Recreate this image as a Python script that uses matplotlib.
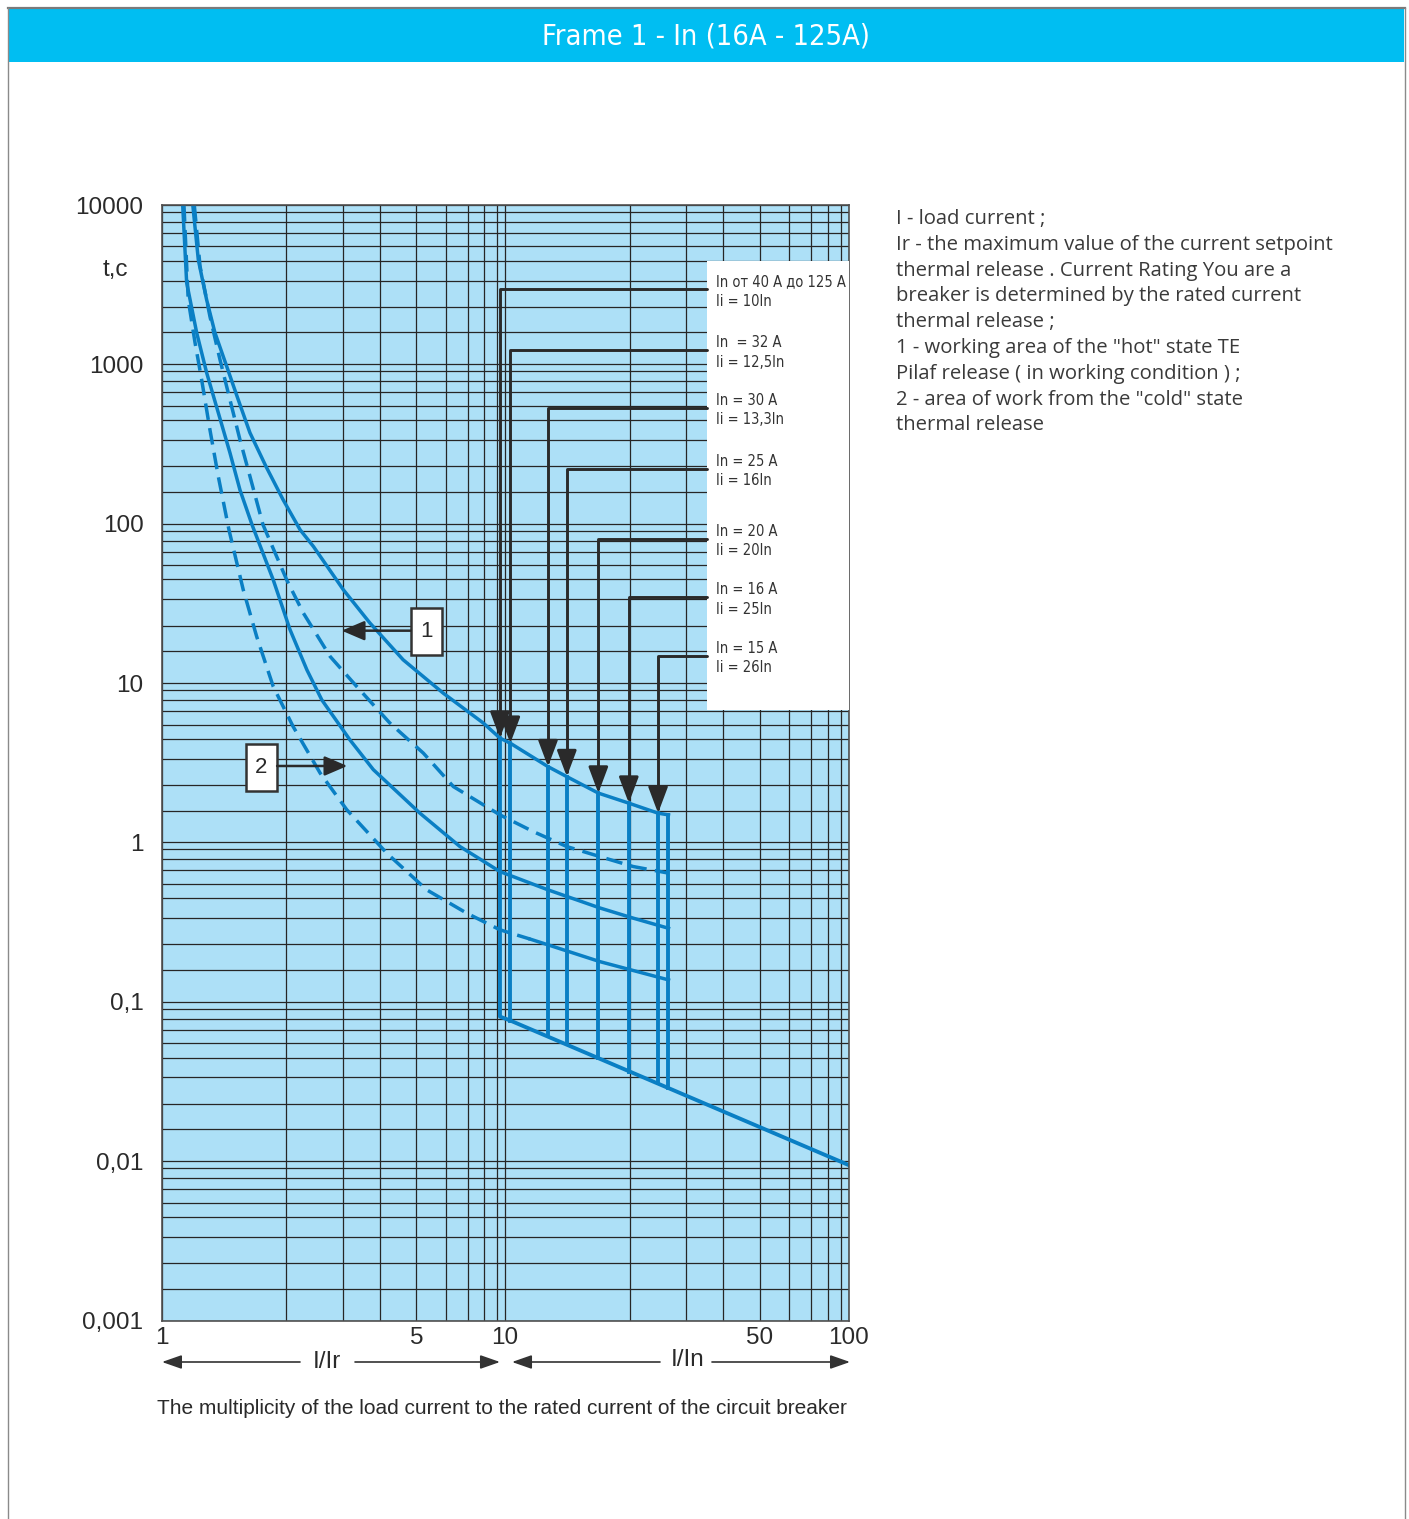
import numpy as np
import matplotlib.pyplot as plt
from matplotlib.patches import Rectangle

plt.rcParams['font.family'] = ['Liberation Sans', 'DejaVu Sans']
NARROW = dict(family=['DejaVu Sans'], fontstretch='condensed')

# the printed log paper is not a true log grid: where the 2..9 lines sit inside a decade
X_FRAC = [0, 0.363, 0.528, 0.636, 0.742, 0.828, 0.892, 0.94, 0.977, 1]
Y_FRAC = [0, 0.20, 0.36, 0.525, 0.65, 0.74, 0.825, 0.894, 0.956, 1]
LOG_M = np.log10(np.arange(1, 11))


def decade_scale(frac):
    frac = np.asarray(frac, float)

    def fwd(v):
        lv = np.log10(np.clip(np.asarray(v, float), 1e-9, None))
        d = np.floor(lv)
        return d + np.interp(lv - d, LOG_M, frac)

    def inv(u):
        u = np.asarray(u, float)
        d = np.floor(u)
        return 10 ** (d + np.interp(u - d, frac, LOG_M))

    return fwd, inv


# hot state, upper bound (solid)
hot_hi_x = [1.19, 1.227, 1.285, 1.346, 1.437, 1.532, 1.635, 1.787, 1.965, 2.21, 2.43, 3.01,
            3.70, 4.61, 5.90, 7.93, 9.35, 10.3, 12.7, 14.1, 16.8, 19.9, 24.5, 26.4]
hot_hi_t = [10000, 5070, 3250, 1990, 969, 643, 434, 300, 169, 91.2, 74.5, 44.6,
            30.9, 16.6, 8.68, 6.10, 5.05, 4.76, 3.67, 3.29, 2.64, 2.25, 1.89, 1.82]
# cold state, upper bound (dashed)
cold_hi_x = [1.20, 1.239, 1.309, 1.384, 1.463, 1.547, 1.635, 1.758, 2.007, 2.26, 2.74,
             3.34, 4.25, 5.22, 6.32, 9.35, 11.7, 14.1, 16.96, 20.5, 26.4]
cold_hi_t = [10000, 4700, 2580, 1110, 643, 401, 256, 98.5, 49.8, 34.5, 17.8,
             9.50, 6.10, 4.26, 2.93, 1.82, 1.266, 0.940, 0.826, 0.733, 0.678]
# hot state, lower bound (solid)
hot_lo_x = [1.125, 1.15, 1.216, 1.285, 1.371, 1.463, 1.547, 1.654, 1.861, 2.055, 2.32,
            2.58, 3.17, 3.80, 5.11, 6.62, 9.35, 12.7, 16.96, 20.5, 26.4]
hot_lo_t = [10000, 3920, 1990, 887, 550, 348, 206, 98.5, 49.8, 28.2, 13.3,
            8.01, 4.94, 3.55, 1.89, 0.940, 0.690, 0.556, 0.448, 0.400, 0.358]
# cold state, lower bound (dashed, solid past 11.5)
cold_lo_x = [1.133, 1.16, 1.205, 1.25, 1.309, 1.371, 1.455, 1.575, 1.697, 1.861, 2.10,
             2.55, 3.09, 4.17, 5.33, 6.94, 9.35, 11.5, 12.7, 16.96, 26.4]
cold_lo_t = [10000, 3250, 1600, 815, 449, 256, 91.2, 44.6, 25.3, 9.50, 5.86,
             3.42, 2.03, 0.861, 0.556, 0.423, 0.352, 0.318, 0.298, 0.228, 0.161]
cold_lo_split = 17

# instantaneous trip band: vertical lines and the lower limit
trip_x = [9.35, 10.3, 12.7, 14.1, 16.8, 19.9, 24.5, 26.4]
trip_top = [5.05, 4.76, 3.67, 3.29, 2.64, 2.25, 1.89, 1.82]
trip_bot = [0.082, 0.0782, 0.0659, 0.060, 0.0497, 0.0427, 0.0376, 0.0356]
limit_end = (100, 0.00944)

ratings = ['In от 40 А до 125 А', 'In  = 32 A', 'In = 30 A', 'In = 25 A',
           'In = 20 A', 'In = 16 A', 'In = 15 A']
ii_text = ['Ii = 10In', 'Ii = 12,5In', 'Ii = 13,3In', 'Ii = 16In',
           'Ii = 20In', 'Ii = 25In', 'Ii = 26In']
label_level = [0.9244, 0.8697, 0.8183, 0.7636, 0.7006, 0.6483, 0.5957]

x_major = [1, 5, 10, 50, 100]
x_labels = ['1', '5', '10', '50', '100']
x_minor = [m * 10 ** k for k in (0, 1) for m in range(2, 10) if m != 5]
y_major = [0.001, 0.01, 0.1, 1, 10, 100, 1000, 10000]
y_labels = ['0,001', '0,01', '0,1', '1', '10', '100', '1000', '10000']
y_minor = [m * 10.0 ** k for k in range(-3, 4) for m in range(2, 10)]

notes = ['I - load current ;',
         'Ir - the maximum value of the current setpoint',
         'thermal release . Current Rating You are a',
         'breaker is determined by the rated current',
         'thermal release ;',
         '1 - working area of the "hot" state TE',
         'Pilaf release ( in working condition ) ;',
         '2 - area of work from the "cold" state',
         'thermal release']

BLUE = '#0a7fc4'
INK = '#2a2a2a'
W, H = 1409, 1519

fig = plt.figure(figsize=(W / 100, H / 100), dpi=100)

# page frame and header band
fig.add_artist(Rectangle((9 / W, 1 - 62 / H), 1395 / W, 54 / H, transform=fig.transFigure,
                         facecolor='#00bef2', edgecolor='none'))
fig.add_artist(plt.Line2D([8 / W, 1404.5 / W], [1 - 7.5 / H] * 2, transform=fig.transFigure,
                          color='#7a7a7a', lw=1.6))
for xf in (8 / W, 1404.5 / W):
    fig.add_artist(plt.Line2D([xf, xf], [0, 1 - 7.5 / H], transform=fig.transFigure,
                              color='#8a8a8a', lw=1))
fig.text(706 / W, 1 - 36 / H, 'Frame 1 - In (16A - 125A)', ha='center', va='center',
         color='white', fontsize=20.8, **NARROW)

ax = fig.add_axes([161.5 / W, (H - 1320.5) / H, 687 / W, 1115.5 / H])
ax.set_xscale('function', functions=decade_scale(X_FRAC))
ax.set_yscale('function', functions=decade_scale(Y_FRAC))
ax.set_xlim(1, 100)
ax.set_ylim(0.001, 10000)
ax.set_facecolor('#ade0f7')

ax.set_xticks(x_major)
ax.set_xticklabels(x_labels)
ax.set_xticks(x_minor, minor=True)
ax.set_yticks(y_major)
ax.set_yticklabels(y_labels)
ax.set_yticks(y_minor, minor=True)
ax.tick_params(which='both', length=0, labelsize=17.5, colors='#2a2a2a')
ax.tick_params(axis='x', pad=5)
ax.tick_params(axis='y', pad=13)
ax.set_axisbelow(True)
ax.grid(True, which='both', color='#262626', lw=0.9)
for s in ax.spines.values():
    s.set_color('#505050')
    s.set_linewidth(1.2)

# time-current curves
lw = 2.5
dash = (0, (4.8, 2.4))
ax.plot(hot_hi_x, hot_hi_t, color=BLUE, lw=lw, zorder=2)
ax.plot(hot_lo_x, hot_lo_t, color=BLUE, lw=lw, zorder=2)
ax.plot(cold_hi_x, cold_hi_t, color=BLUE, lw=lw, ls=dash, zorder=2)
ax.plot(cold_lo_x[:cold_lo_split + 1], cold_lo_t[:cold_lo_split + 1],
        color=BLUE, lw=lw, ls=dash, zorder=2)
ax.plot(cold_lo_x[cold_lo_split:], cold_lo_t[cold_lo_split:], color=BLUE, lw=lw, zorder=2)

ax.plot([trip_x[0], trip_x[0], trip_x[1], limit_end[0]],
        [trip_top[0], trip_bot[0], trip_bot[1], limit_end[1]],
        color=BLUE, lw=lw + 0.3, zorder=2, solid_joinstyle='round')
for xv, top, bot in zip(trip_x[1:], trip_top[1:], trip_bot[1:]):
    ax.plot([xv, xv], [top, bot], color=BLUE, lw=lw + 0.3, zorder=2)

# white panel with ratings and pointer arrows
box_x0 = 0.794
ax.add_patch(Rectangle((box_x0, 0.5472), 1 - box_x0, 0.4026, transform=ax.transAxes,
                       facecolor='white', edgecolor='none', zorder=3))
for xv, tv, lev, r, ii in zip(trip_x, trip_top, label_level, ratings, ii_text):
    ax.annotate('', xy=(xv, tv), xycoords='data', xytext=(box_x0, lev),
                textcoords='axes fraction',
                arrowprops=dict(arrowstyle='-|>,head_length=0.8,head_width=0.3',
                                mutation_scale=20, color=INK, lw=2.1, shrinkA=0, shrinkB=0,
                                connectionstyle='angle,angleA=180,angleB=90,rad=0'),
                zorder=4)
    ax.text(0.807, lev - 0.002, r + '\n' + ii, transform=ax.transAxes, ha='left',
            va='center', fontsize=10.5, color='#333333', linespacing=1.35,
            zorder=5, **NARROW)

# numbered callouts
callouts = [('1', (0.3627, 0.5966), (0.2623, 0.6184)),
            ('2', (0.1230, 0.4749), (0.2705, 0.4971))]
for txt, (bx, by), (tx, ty) in callouts:
    bw, bh = 0.0453, 0.0418
    ax.add_patch(Rectangle((bx, by), bw, bh, transform=ax.transAxes, facecolor='white',
                           edgecolor='#333333', lw=1.8, zorder=5))
    ax.text(bx + bw / 2, by + bh / 2, txt, transform=ax.transAxes, ha='center',
            va='center', fontsize=16, color='#2a2a2a', zorder=6)
    start = bx if tx < bx else bx + bw
    ax.annotate('', xy=(tx, ty), xycoords='axes fraction', xytext=(start, ty),
                textcoords='axes fraction',
                arrowprops=dict(arrowstyle='-|>,head_length=0.7,head_width=0.3',
                                mutation_scale=20, color=INK, lw=1.8, shrinkA=0, shrinkB=0),
                zorder=5)

# axis name and the I/Ir, I/In range arrows
fig.text(115 / W, 1 - 270 / H, 't,c', ha='center', va='center', fontsize=17.5,
         color='#2a2a2a')
ya = -0.0372
for x0, x1 in [(0.2016, 0.0007), (0.2817, 0.4927), (0.7256, 0.5102), (0.8013, 1.0022)]:
    ax.annotate('', xy=(x1, ya), xycoords='axes fraction', xytext=(x0, ya),
                textcoords='axes fraction', annotation_clip=False,
                arrowprops=dict(arrowstyle='-|>,head_length=0.8,head_width=0.28',
                                mutation_scale=15, color='#333333', lw=1.2,
                                shrinkA=0, shrinkB=0))
ax.text(0.2409, ya, 'I/Ir', transform=ax.transAxes, ha='center', va='center',
        fontsize=17.5, color='#2a2a2a')
ax.text(0.7664, ya + 0.002, 'I/In', transform=ax.transAxes, ha='center', va='center',
        fontsize=17.5, color='#2a2a2a')
fig.text(157 / W, 1 - 1409 / H,
         'The multiplicity of the load current to the rated current of the circuit breaker',
         ha='left', va='center', fontsize=15, color='#2a2a2a')

# explanation block
for i, line in enumerate(notes):
    fig.text(896 / W, 1 - (219 + 25.8 * i) / H, line, ha='left', va='center',
             fontsize=14.6, color='#3a3a3a', family=['Open Sans', 'DejaVu Sans'])

fig.savefig('out.png', dpi=100)
